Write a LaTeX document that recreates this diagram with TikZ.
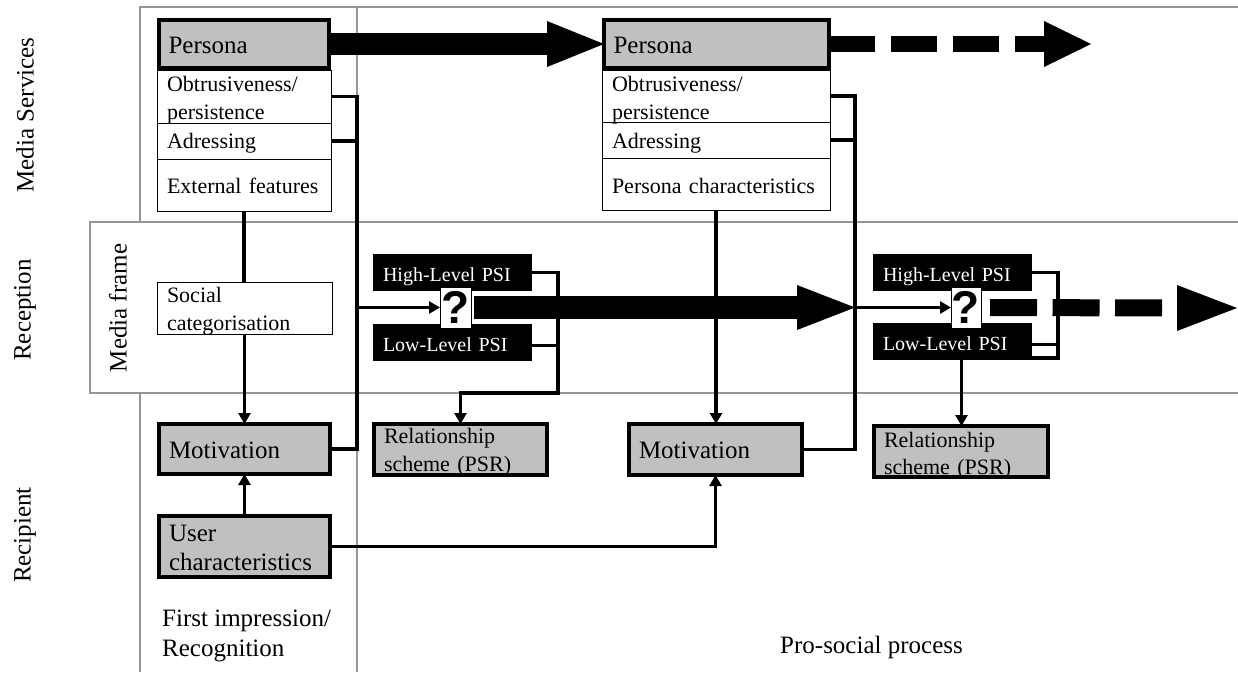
\documentclass[tikz,border=0pt]{standalone}
\usepackage{fontspec}
\setmainfont{Liberation Serif}
\newfontfamily\qfont{Liberation Sans}
\usetikzlibrary{arrows.meta,calc}
\definecolor{framegray}{RGB}{150,150,150}
\definecolor{boxgray}{RGB}{192,192,192}
\newcommand\myfs[2]{\fontsize{#1pt}{#2pt}\selectfont}
\begin{document}
\begin{tikzpicture}[x=1pt,y=-1pt,
  gridline/.style={draw=framegray,line width=1.5pt},
  wire/.style={line width=3.2pt,line join=miter},
  wirearrow/.style={wire,-{Triangle[length=11pt,width=12pt]}},
  basebox/.style={anchor=north west,inner xsep=10pt,inner ysep=0pt,align=left,outer sep=0pt},
  gbox/.style={basebox,draw,line width=4pt,fill=boxgray,font=\myfs{25}{30}},
  wbox/.style={basebox,draw,line width=1pt,font=\myfs{22}{28}},
  kbox/.style={basebox,fill=black,text=white,font=\myfs{20}{24}},
  qbox/.style={anchor=north west,draw,line width=1pt,fill=white,inner sep=0pt,outer sep=0pt,font=\qfont\bfseries\myfs{46}{46}},
  bigarrow/.style={line width=#1},
  hd/.style 2 args={text height=#1pt,text depth=#2pt},
  lbl/.style={font=\myfs{25}{30}}
]
\useasboundingbox (0,0) rectangle (1238,672);
% frame lines
\draw[gridline] (140,672) -- (140,393);
\draw[gridline] (140,222) -- (140,7) -- (1238,7);
\draw[gridline] (357,7) -- (357,222);
\draw[gridline] (357,393) -- (357,672);
\draw[gridline] (1238,222) -- (90,222) -- (90,393) -- (1238,393);

% side labels
\node[lbl,rotate=90] (lms) at (25,115) {Media Services};
\node[lbl,rotate=90] (lrc) at (25,310) {Reception};
\node[lbl,rotate=90] (lrp) at (25,535) {Recipient};
\node[lbl,rotate=90] (lmf) at (118,308) {Media frame};
\node[lbl,align=left,anchor=base west,inner sep=0pt] (lfi) at (162,656) {First impression/\\Recognition};
\node[lbl,anchor=base west,inner sep=0pt] (lps) at (780,653) {Pro-social process};

% nodes
\node[wbox,minimum width=174pt,minimum height=53pt,text width=154pt,hd={21}{31.5}] (o1) at (157,70) {Obtrusiveness/\\persistence};
\node[wbox,minimum width=174pt,minimum height=36pt,text width=154pt,hd={25}{10.5}] (a1) at (157,123) {Adressing};
\node[wbox,minimum width=174pt,minimum height=52pt,text width=154pt,hd={34}{17.5}] (e1) at (157,159) {External features};
\node[gbox,minimum width=170pt,minimum height=48pt,text width=151pt,inner xsep=9.5pt,hd={33}{14.5}] (p1) at (159,20) {Persona};
\node[wbox,minimum width=175pt,minimum height=52pt,text width=155pt,font=\myfs{22}{28},hd={20}{31.5}] (s1) at (157,282) {Social\\categorisation};
\node[gbox,minimum width=171pt,minimum height=50pt,text width=151pt,hd={34}{15.5}] (m1) at (159,424) {Motivation};
\node[gbox,minimum width=171pt,minimum height=61pt,text width=151pt,font=\myfs{25}{29},hd={25}{35.5}] (u1) at (159,516) {User\\characteristics};
\node[kbox,minimum width=159pt,minimum height=37pt,text width=139pt,hd={27}{9.5}] (h1) at (373,254) {High-Level PSI};
\node[kbox,minimum width=159pt,minimum height=37pt,text width=139pt,hd={27}{9.5}] (l1) at (373,324) {Low-Level PSI};
\node[gbox,minimum width=173pt,minimum height=51pt,text width=153pt,font=\myfs{22}{28},hd={19}{31.5}] (r1) at (374,424) {Relationship\\scheme (PSR)};
\node[wbox,minimum width=228pt,minimum height=52pt,text width=208pt,hd={21}{30.5}] (o2) at (602,70) {Obtrusiveness/\\persistence};
\node[wbox,minimum width=228pt,minimum height=36pt,text width=208pt,hd={26}{9.5}] (a2) at (602,122) {Adressing};
\node[wbox,minimum width=228pt,minimum height=52pt,text width=208pt,hd={35}{16.5}] (c2) at (602,158) {Persona characteristics};
\node[gbox,minimum width=225pt,minimum height=48pt,text width=206pt,inner xsep=9.5pt,hd={33}{14.5}] (p2) at (604,20) {Persona};
\node[gbox,minimum width=173pt,minimum height=51pt,text width=153pt,hd={34}{16.5}] (m2) at (629,424) {Motivation};
\node[kbox,minimum width=159pt,minimum height=37pt,text width=139pt,hd={27}{9.5}] (h2) at (873,254) {High-Level PSI};
\node[kbox,minimum width=159pt,minimum height=37pt,text width=139pt,hd={27}{9.5}] (l2) at (873,323) {Low-Level PSI};
\node[gbox,minimum width=174pt,minimum height=51pt,text width=154pt,font=\myfs{22}{27},hd={21}{29.5}] (r2) at (874,426) {Relationship\\scheme (PSR)};

% junction coordinates
\coordinate (j1) at (357,0);
\coordinate (j2) at (855,0);
\coordinate (b1) at (558,393);
\coordinate (b2) at (1058,358);
\coordinate (t1) at (1091,44);
\coordinate (t2) at (1237,308);
\coordinate (t2b) at (1177,308);

% connectors
\draw[wire] (o1.east) -| (j1 |- m1.east) -- (m1.east);
\draw[wire] (a1.east) -- (a1.east -| j1);
\draw[wire] (e1.south) -- (e1.south |- s1.north);
\draw[wirearrow] (s1.south) -- (s1.south |- m1.north);
\draw[wirearrow] (u1.north) -- (m1.south);
\draw[wirearrow] (u1.east) -| (m2.south);
\draw[wirearrow] (c2.south) -- (c2.south |- m2.north);
\draw[wire] (o2.east) -| (j2 |- m2.east) -- (m2.east);
\draw[wire] (a2.east) -- (a2.east -| j2);
\draw[wirearrow] (h1.east) -| (b1) -| (r1.north);
\draw[wire] ([yshift=-3pt]l1.east) -- ([yshift=-3pt]l1.east -| b1);
\draw[wire] (h2.east) -| (b2) -- (b2 -| h2.east);
\draw[wire] ([yshift=-3pt]l2.east) -- ([yshift=-3pt]l2.east -| b2);
\draw[wirearrow] ([xshift=9pt]l2.south) -- ([xshift=9pt]l2.south |- r2.north);

% question boxes
\node[qbox,minimum width=31pt,minimum height=41pt] (q1) at (440,287) {?};
\node[qbox,minimum width=30pt,minimum height=41pt] (q2) at (951,287) {?};
\draw[wirearrow] (j1 |- q1.west) -- (q1.west);
\draw[wirearrow] (j2 |- q2.west) -- (q2.west);

% big arrows
\draw[bigarrow=22pt,-{Triangle[length=57pt,width=46pt,line width=0pt]}] (p1.east) -- (p2.west);
\draw[bigarrow=16pt,dash pattern=on 46pt off 16pt,-{Triangle[length=47pt,width=46pt,line width=0pt]}] (p2.east) -- (t1);
\draw[bigarrow=23pt,-{Triangle[length=58pt,width=45pt,line width=0pt]}] ([xshift=3pt]q1.east) -- (q1.east -| j2);
\draw[bigarrow=17pt,dash pattern=on 47pt off 15.5pt] ([xshift=9pt]q2.east) -- ([xshift=-3pt]t2b);
\fill (t2b) -- ([yshift=-23pt]t2b) -- (t2) -- ([yshift=23pt]t2b) -- cycle;
\end{tikzpicture}
\end{document}
